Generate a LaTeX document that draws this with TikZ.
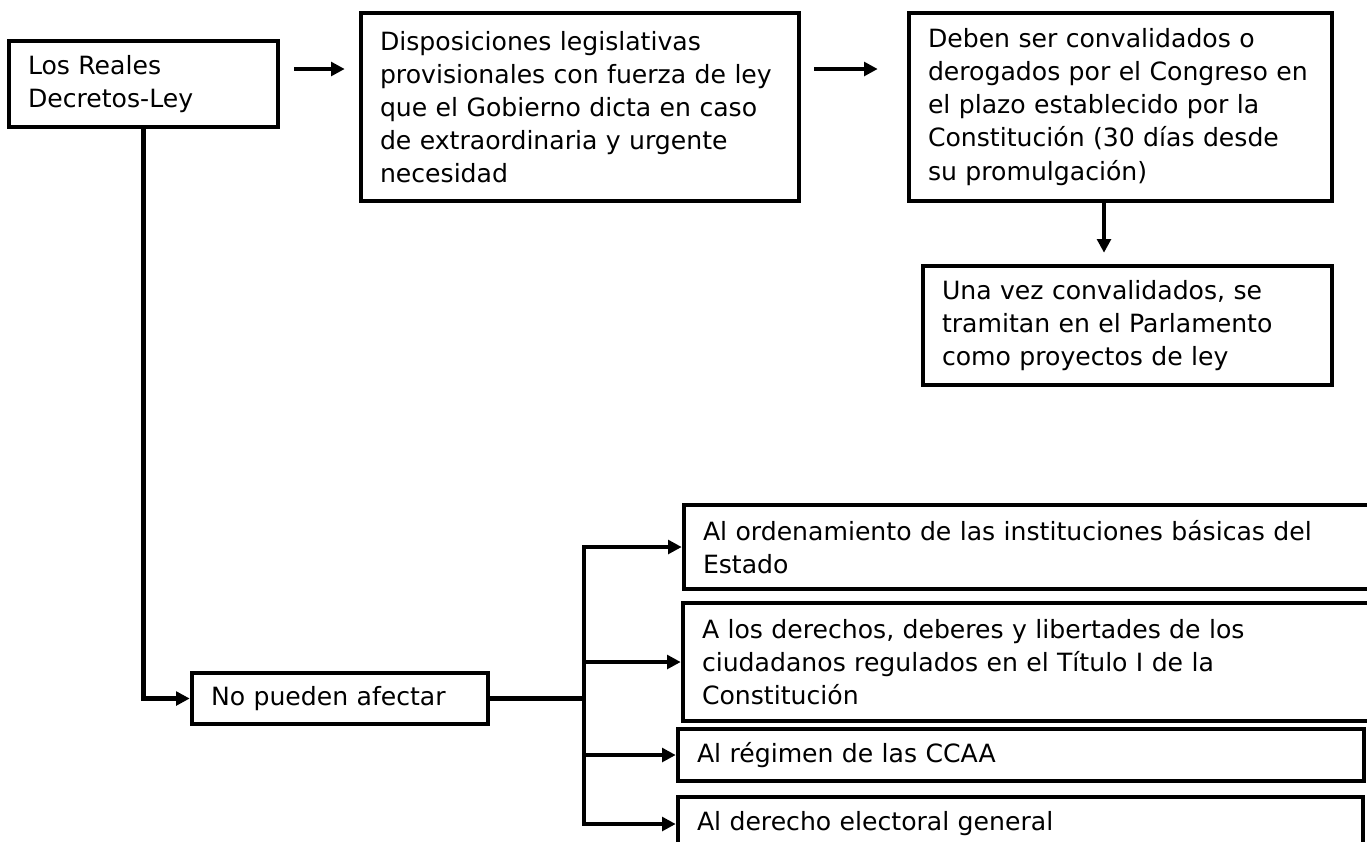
\documentclass[tikz,border=0pt]{standalone}
\usepackage{fontspec}
\setmainfont{DejaVu Sans}
\usetikzlibrary{arrows.meta}

\tikzset{
  caja/.style={draw=black, line width=2.6pt, fill=white, align=left,
    inner xsep=0.38cm, inner ysep=0pt, font=\fontsize{14.3}{18.8}\selectfont},
  linea/.style={line width=2.6pt},
  flecha/.style={line width=2.6pt, -{Triangle[length=0.27cm,width=0.27cm]}}
}

\begin{document}
\begin{tikzpicture}
            \useasboundingbox (0,0) rectangle (27.34,-16.82);

            % fila de arriba
            \node[caja, text width=4.62cm, minimum height=1.72cm] (reales) at (2.87,-1.68) {Los Reales\\Decretos-Ley};
            \node[caja, text width=8.00cm, minimum height=3.76cm] (disp) at (11.60,-2.14) {Disposiciones legislativas\\provisionales con fuerza de ley\\que el Gobierno dicta en caso\\de extraordinaria y urgente\\necesidad};
            \node[caja, text width=7.70cm, minimum height=3.76cm] (conv) at (22.41,-2.14) {Deben ser convalidados o\\derogados por el Congreso en\\el plazo establecido por la\\Constitución (30 días desde\\su promulgación)};
            \node[caja, text width=7.42cm, minimum height=2.38cm] (tram) at (22.55,-6.51) {Una vez convalidados, se\\tramitan en el Parlamento\\como proyectos de ley};

            % parte de abajo
            \node[caja, text width=5.16cm, minimum height=1.02cm] (afectar) at (6.80,-13.97) {No pueden afectar};
            \node[caja, text width=13.16cm, minimum height=1.68cm] (inst) at (20.64,-10.94) {Al ordenamiento de las instituciones básicas del\\Estado};
            \node[caja, text width=13.18cm, minimum height=2.36cm] (derechos) at (20.63,-13.24) {A los derechos, deberes y libertades de los\\ciudadanos regulados en el Título I de la\\Constitución};
            \node[caja, text width=12.96cm, minimum height=1.04cm] (ccaa) at (20.42,-15.10) {Al régimen de las CCAA};
            \node[caja, text width=12.94cm, minimum height=1.08cm] (electoral) at (20.41,-16.48) {Al derecho electoral general};

            \coordinate (fila) at (0,-1.38);
            \coordinate (baja) at (22.08,0);
            \coordinate (rama) at (11.68,-13.97);

            \draw[flecha, shorten <=0.28cm, shorten >=0.28cm] (reales.east |- fila) -- (disp.west |- fila); % reales-disp
            \draw[flecha, shorten <=0.26cm, shorten >=0.58cm] (disp.east |- fila) -- (conv.west |- fila); % disp-conv
            \draw[flecha, shorten >=0.22cm] (baja |- conv.south) -- (baja |- tram.north); % conv-tram
            \draw[flecha] (reales.south) |- (afectar.west); % reales-afectar
            \draw[linea] (afectar.east) -- (rama);
            \foreach \destino in {inst, derechos, ccaa, electoral}
                \draw[flecha] (rama) |- (\destino.west);
        \end{tikzpicture}
\end{document}
